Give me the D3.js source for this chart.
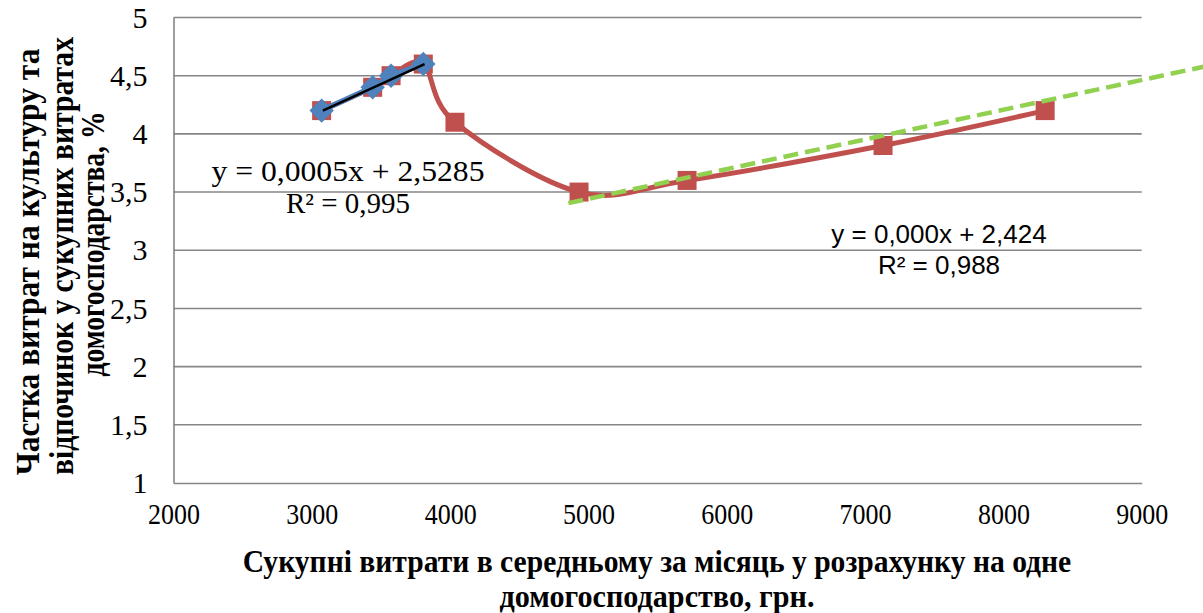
<!DOCTYPE html>
<html>
<head>
<meta charset="utf-8">
<script src="https://cdn.jsdelivr.net/npm/d3@7"></script>
<style>
  html, body { margin: 0; padding: 0; background: #fff; }
  svg { display: block; }
</style>
</head>
<body>
<svg id="chart" width="1203" height="613"></svg>
<script>
// ---- data ----
const expenses = [3071, 3440, 3573, 3806, 4035, 4932, 5713, 7130, 8302];
const cultureShare = [4.2, 4.4, 4.5, 4.6, 4.1, 3.5, 3.6, 3.9, 4.2];
const blueExpenses = [3071, 3440, 3573, 3806];
const blueShare = [4.2, 4.4, 4.5, 4.6];
const blueTrendX = [3080, 3815];
const blueTrendY = [4.2, 4.6];
const greenTrendX = [4855, 9460];
const greenTrendY = [3.405, 4.58];
const xTicks = [2000, 3000, 4000, 5000, 6000, 7000, 8000, 9000];
const yTicks = [1, 1.5, 2, 2.5, 3, 3.5, 4, 4.5, 5];
const yTitleLines = ["Частка витрат  на культуру та", "відпочинок у сукупних витратах", "домогосподарства, %"];
const xTitleLines = ["Сукупні витрати в середньому за місяць у розрахунку на одне", "домогосподарство, грн."];
const eq1 = ["y = 0,0005x + 2,5285", "R² = 0,995"];
const eq2 = ["y = 0,000x + 2,424", "R² = 0,988"];

const svg = d3.select("#chart");
const x = d3.scaleLinear().domain([2000, 9000]).range([173.5, 1141.7]);
const y = d3.scaleLinear().domain([1, 5]).range([483, 17.5]);
const fmt = d => String(d).replace(".", ",");
const gridCol = "#868686";
const serif = "'Liberation Serif', 'Times New Roman', serif";
const sans = "'Liberation Sans', Arial, sans-serif";

// gridlines
svg.append("g").selectAll("line").data(yTicks.filter(d => d > 1)).join("line")
  .attr("x1", x(2000)).attr("x2", x(9000))
  .attr("y1", d => y(d)).attr("y2", d => y(d))
  .attr("stroke", gridCol).attr("stroke-width", 1.6);

// axes
const yAxis = svg.append("g").attr("transform", `translate(${x(2000)},0)`)
  .call(d3.axisLeft(y).tickValues(yTicks).tickFormat(fmt).tickSize(0).tickPadding(26));
yAxis.select(".domain").attr("stroke", gridCol).attr("stroke-width", 1.6);
yAxis.selectAll("text").attr("font-family", serif)
  .attr("font-size", 30).attr("fill", "#000");

const xAxis = svg.append("g").attr("transform", `translate(0,${y(1)})`)
  .call(d3.axisBottom(x).tickValues(xTicks).tickFormat(d => d).tickSize(0).tickPadding(20));
xAxis.select(".domain").attr("stroke", gridCol).attr("stroke-width", 1.6);
xAxis.selectAll("text").attr("font-family", serif)
  .attr("font-size", 30).attr("fill", "#000")
  .attr("textLength", 52).attr("lengthAdjust", "spacingAndGlyphs");

// red smooth line
const pts = expenses.map((e, i) => [e, cultureShare[i]]);
const smooth = d3.line().x(d => x(d[0])).y(d => y(d[1])).curve(d3.curveCardinal.tension(0));
svg.append("path").attr("d", smooth(pts)).attr("fill", "none")
  .attr("stroke", "#C0504D").attr("stroke-width", 5).attr("stroke-linejoin", "round");
svg.append("g").selectAll("rect").data(pts).join("rect")
  .attr("x", d => x(d[0]) - 9.5).attr("y", d => y(d[1]) - 9.5)
  .attr("width", 19).attr("height", 19).attr("fill", "#C0504D");

// blue series
const bpts = blueExpenses.map((e, i) => [e, blueShare[i]]);
const straight = d3.line().x(d => x(d[0])).y(d => y(d[1]));
svg.append("path").attr("d", straight(bpts)).attr("fill", "none")
  .attr("stroke", "#4F81BD").attr("stroke-width", 5.5).attr("stroke-linejoin", "round");
svg.append("g").selectAll("path").data(bpts).join("path")
  .attr("d", d3.symbol(d3.symbolDiamond2, 380)())
  .attr("transform", d => `translate(${x(d[0])},${y(d[1])})`)
  .attr("fill", "#4F81BD");

// trend lines
svg.append("path").attr("d", straight(blueTrendX.map((e, i) => [e, blueTrendY[i]])))
  .attr("stroke", "#000").attr("stroke-width", 2.5).attr("fill", "none");
svg.append("path").attr("d", straight(greenTrendX.map((e, i) => [e, greenTrendY[i]])))
  .attr("stroke", "#92D050").attr("stroke-width", 4.5).attr("fill", "none")
  .attr("stroke-dasharray", "15,7");

// equations
svg.append("g").selectAll("text").data(eq1).join("text")
  .attr("x", 348).attr("y", (d, i) => 181 + i * 32)
  .attr("text-anchor", "middle").attr("font-family", serif).attr("font-size", 29)
  .attr("textLength", (d, i) => [273, 124][i]).attr("lengthAdjust", "spacingAndGlyphs")
  .text(d => d);
svg.append("g").selectAll("text").data(eq2).join("text")
  .attr("x", 939).attr("y", (d, i) => 243 + i * 31)
  .attr("text-anchor", "middle").attr("font-family", sans).attr("font-size", 26)
  .text(d => d);

// y title (compressed along the text direction with a scale transform)
const yTitleX = [27, 61, 92];
const yTitleC = [262, 256, 244];
const yTitleLen = [427, 438, 265];
svg.append("g").selectAll("text").data(yTitleLines).join("text")
  .attr("text-anchor", "middle").attr("font-family", serif).attr("font-weight", "bold")
  .attr("font-size", 34)
  .text(d => d)
  .each(function (d, i) {
    const k = yTitleLen[i] / this.getComputedTextLength();
    d3.select(this).attr("transform",
      `translate(${yTitleX[i] + 12},${yTitleC[i]}) rotate(-90) scale(${k},1)`);
  });

// x title
const xTitleY = [572, 607];
const xTitleLen = [829, 315];
svg.append("g").selectAll("text").data(xTitleLines).join("text")
  .attr("text-anchor", "middle").attr("font-family", serif).attr("font-weight", "bold")
  .attr("font-size", 31)
  .text(d => d)
  .each(function (d, i) {
    const k = xTitleLen[i] / this.getComputedTextLength();
    d3.select(this).attr("transform", `translate(657,${xTitleY[i]}) scale(${k},1)`);
  });
</script>
</body>
</html>
